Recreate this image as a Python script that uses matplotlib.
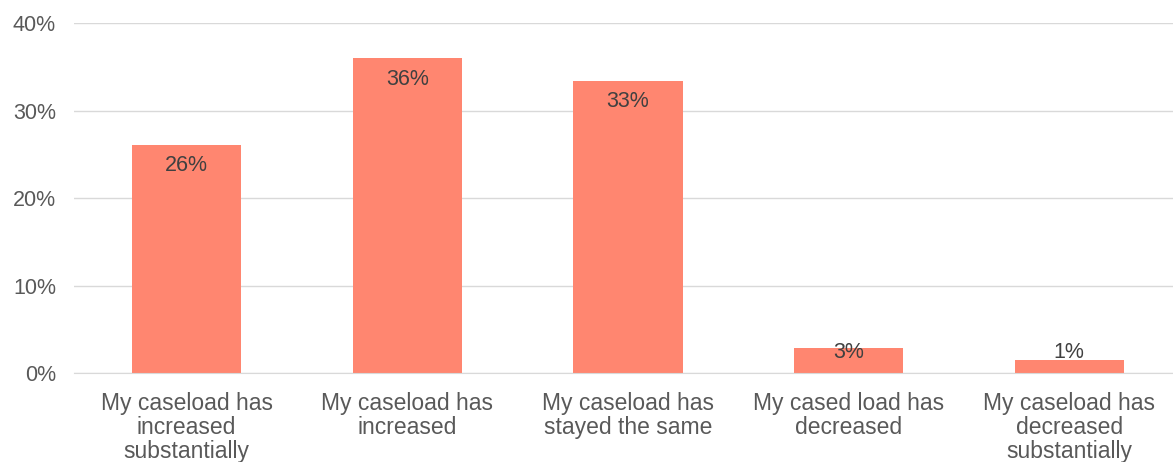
import matplotlib.pyplot as plt

categories = [
    "My caseload has\nincreased\nsubstantially",
    "My caseload has\nincreased",
    "My caseload has\nstayed the same",
    "My cased load has\ndecreased",
    "My caseload has\ndecreased\nsubstantially",
]
values = [26.1, 36.0, 33.4, 2.85, 1.5]
labels = ["26%", "36%", "33%", "3%", "1%"]
yticks = [0, 10, 20, 30, 40]

plt.rcParams['font.family'] = ['Liberation Sans', 'DejaVu Sans']

fig = plt.figure(figsize=(11.73, 4.62), dpi=100)
ax = fig.add_axes([0.0631, 0.1926, 0.9369, 0.7576])

x = list(range(len(values)))
ax.bar(x, values, width=0.495, color='#ff8670', zorder=2)

for xi, v, lab in zip(x, values, labels):
    ax.text(xi, max(v - 2.4, 2.4), lab, ha='center', va='center',
            fontsize=15.5, color='#404040', zorder=3)

ax.set_ylim(0, 40)
ax.set_xlim(-0.51, 4.47)
ax.set_yticks(yticks)
ax.set_yticklabels([str(t) + "%" for t in yticks])
ax.set_xticks(x)
ax.set_xticklabels(categories, linespacing=1.05)
ax.tick_params(axis='both', length=0, labelsize=16.5, colors='#595959')
ax.tick_params(axis='y', pad=13, labelsize=15.5)
ax.tick_params(axis='x', pad=14)
ax.grid(axis='y', color='#d9d9d9', linewidth=1, zorder=0)
for s in ['top', 'right', 'left']:
    ax.spines[s].set_visible(False)
ax.spines['bottom'].set_color('#d9d9d9')

fig.savefig('out.png', dpi=100)
